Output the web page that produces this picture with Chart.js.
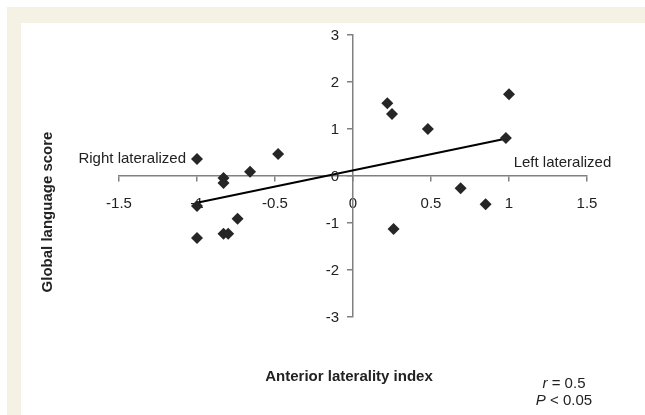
<!DOCTYPE html>
<html>
<head>
<meta charset="utf-8">
<script src="https://cdn.jsdelivr.net/npm/chart.js@4/dist/chart.umd.min.js"></script>
<style>
  html, body { margin: 0; padding: 0; background: #fff; }
  #frame { position: absolute; left: 7px; top: 7px; width: 638px; height: 408px; background: #f5f1e4; }
  #panel { position: absolute; left: 21px; top: 23px; width: 624px; height: 392px; background: #fff; }
  #wrap { position: absolute; left: 0; top: 0; width: 645px; height: 415px; }
</style>
</head>
<body>
<div id="frame"></div>
<div id="panel"></div>
<div id="wrap"><canvas id="graph" width="645" height="415"></canvas></div>
<script>
// laterality index (x) vs global language score (y), one entry per patient
const lateralityIndex = [-1.00, -0.48, -0.66, -0.83, -0.83, -1.00, -0.74, -0.83, -0.80, -1.00,
                         0.22, 0.25, 0.48, 1.00, 0.98, 0.69, 0.85, 0.26];
const languageScore   = [0.36, 0.47, 0.09, -0.04, -0.15, -0.64, -0.91, -1.23, -1.23, -1.32,
                         1.55, 1.32, 1.00, 1.74, 0.81, -0.26, -0.60, -1.13];

// regression line end points
const fitX = [-1.0, 1.0];
const fitY = [-0.57, 0.81];

const xTicks = [-1.5, -1, -0.5, 0, 0.5, 1, 1.5];
const yTicks = [-3, -2, -1, 0, 1, 2, 3];

const font = '"Liberation Sans", Arial, sans-serif';

const points = lateralityIndex.map((x, i) => ({ x: x, y: languageScore[i] }));
const fitLine = fitX.map((x, i) => ({ x: x, y: fitY[i] }));

// y tick labels, text annotations and axis titles
const textPlugin = {
    id: 'texts',
    afterDraw(chart) {
        const ctx = chart.ctx;
        const xs = chart.scales.x, ys = chart.scales.y;
        ctx.save();
        ctx.fillStyle = '#222';
        ctx.textBaseline = 'middle';

        ctx.font = '15px ' + font;
        ctx.textAlign = 'right';
        const yAxisX = xs.getPixelForValue(0);
        yTicks.forEach(v => ctx.fillText(String(v), yAxisX - 14, ys.getPixelForValue(v) + 1));

        ctx.fillText('Right lateralized', xs.getPixelForValue(-1) - 11, ys.getPixelForValue(0.36));
        ctx.textAlign = 'left';
        ctx.fillText('Left lateralized', xs.getPixelForValue(1.03), ys.getPixelForValue(0.28));

        ctx.font = 'bold 15px ' + font;
        ctx.textAlign = 'center';
        ctx.fillText('Anterior laterality index', 349, 377);
        ctx.save();
        ctx.translate(48, 212);
        ctx.rotate(-Math.PI / 2);
        ctx.fillText('Global language score', 0, 0);
        ctx.restore();

        ctx.font = 'italic 15px ' + font;
        ctx.textAlign = 'left';
        const rw = ctx.measureText('r').width;
        ctx.font = '15px ' + font;
        const rest = ' = 0.5';
        const total1 = rw + ctx.measureText(rest).width;
        let sx = 564 - total1 / 2;
        ctx.font = 'italic 15px ' + font;
        ctx.fillText('r', sx, 384);
        ctx.font = '15px ' + font;
        ctx.fillText(rest, sx + rw, 384);

        ctx.font = 'italic 15px ' + font;
        const pw = ctx.measureText('P').width;
        ctx.font = '15px ' + font;
        const rest2 = ' < 0.05';
        const total2 = pw + ctx.measureText(rest2).width;
        sx = 564 - total2 / 2;
        ctx.font = 'italic 15px ' + font;
        ctx.fillText('P', sx, 401);
        ctx.font = '15px ' + font;
        ctx.fillText(rest2, sx + pw, 401);
        ctx.restore();
    }
};

const config = {
    type: 'scatter',
    data: {
        datasets: [{
            label: 'patients',
            data: points,
            pointStyle: 'rectRot',
            pointRadius: 6,
            backgroundColor: '#262626',
            borderColor: '#262626',
            borderWidth: 0
        }, {
            label: 'fit',
            data: fitLine,
            showLine: true,
            pointRadius: 0,
            borderColor: '#000',
            borderWidth: 2
        }]
    },
    options: {
        responsive: false,
        animation: false,
        layout: { padding: { left: 119, right: 58, top: 35, bottom: 98 } },
        plugins: { legend: { display: false }, tooltip: { enabled: false } },
        scales: {
            x: {
                type: 'linear',
                position: { y: 0 },
                min: -1.5, max: 1.5,
                afterBuildTicks: (s) => { s.ticks = xTicks.map(v => ({ value: v })); },
                grid: { drawOnChartArea: false, drawTicks: true, tickLength: 5, color: '#808080', lineWidth: 1.5 },
                border: { display: true, color: '#808080', width: 1.5 },
                ticks: { color: '#222', padding: 14, font: { family: font, size: 15 }, maxRotation: 0,
                         callback: (v) => String(v) }
            },
            y: {
                type: 'linear',
                position: { x: 0 },
                min: -3, max: 3,
                afterBuildTicks: (s) => { s.ticks = yTicks.map(v => ({ value: v })); },
                grid: { drawOnChartArea: false, drawTicks: true, tickLength: 5, color: '#808080', lineWidth: 1.5 },
                border: { display: true, color: '#808080', width: 1.5 },
                ticks: { display: false }
            }
        }
    },
    plugins: [textPlugin]
};

const graph = new Chart(document.getElementById('graph'), config);
</script>
</body>
</html>
